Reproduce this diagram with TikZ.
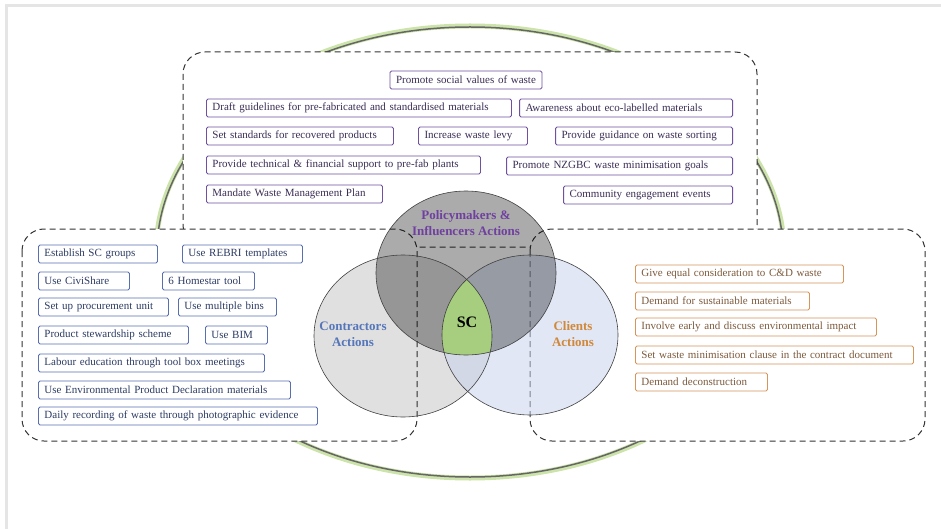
\documentclass[tikz,border=0pt]{standalone}
\usepackage{fontspec}
\setmainfont{Liberation Serif}
\definecolor{polline}{RGB}{112,80,160}
\definecolor{poltext}{RGB}{60,45,85}
\definecolor{conline}{RGB}{88,112,176}
\definecolor{context}{RGB}{45,60,100}
\definecolor{cliline}{RGB}{214,150,90}
\definecolor{clitext}{RGB}{125,90,60}
\definecolor{polhead}{RGB}{112,64,160}
\definecolor{conhead}{RGB}{86,118,186}
\definecolor{clihead}{RGB}{208,136,58}
\definecolor{glow}{RGB}{204,228,170}
\definecolor{clifill}{RGB}{196,208,236}
\definecolor{scgreen}{RGB}{166,206,126}
\begin{document}
\begin{tikzpicture}[x=1pt, y=-1pt,
	    pol/.style={draw=polline, fill=white, line width=0.9pt, rounded corners=1.5pt, minimum height=18pt, inner xsep=6pt, inner ysep=0pt, align=left, text=poltext, font=\fontsize{11}{12}\selectfont},
	    con/.style={pol, draw=conline, text=context},
	    cli/.style={pol, draw=cliline, text=clitext},
	    zone/.style={fill=white, draw=black!80, line width=1pt, dash pattern=on 6pt off 4pt, rounded corners=22pt},
	    head/.style={align=center, font=\bfseries\fontsize{13}{16}\selectfont}]
	    \useasboundingbox (0,0) rectangle (941,529);
	    % frame
	    \draw[black!10, line width=3pt] (6,529) -- (6,5.5) -- (941,5.5);
	    % outer ring
	    \draw[glow, line width=5pt] (470,252) ellipse [x radius=314, y radius=226];
	    \draw[black!60, line width=1.5pt] (470,252) ellipse [x radius=313, y radius=225];
	    % dashed zones
	    \draw[zone] (183,52) rectangle (757,247);
	    \draw[zone] (22,229) rectangle (417,441);
	    \draw[zone] (530,229) rectangle (925,441);
	    % venn
	    \fill[black, fill opacity=0.12] (403,336) ellipse [x radius=89, y radius=81];
	    \fill[clifill, fill opacity=0.5] (530,335) ellipse [x radius=88, y radius=80];
	    \fill[black, fill opacity=0.33] (466,273) ellipse [x radius=90, y radius=82];
	    \begin{scope}
	        \clip (466,273) ellipse [x radius=90, y radius=82];
	        \clip (403,336) ellipse [x radius=89, y radius=81];
	        \fill[scgreen] (530,335) ellipse [x radius=88, y radius=80];
	    \end{scope}
	    \draw[black!75, line width=0.6pt] (403,336) ellipse [x radius=89, y radius=81];
	    \draw[black!75, line width=0.6pt] (530,335) ellipse [x radius=88, y radius=80];
	    \draw[black!75, line width=0.6pt] (466,273) ellipse [x radius=90, y radius=82];
	    \node[head, text=polhead] (polhead) at (466,223) {Policymakers \&\\Influencers Actions};
	    \node[head, text=conhead] (conhead) at (353,334) {Contractors\\Actions};
	    \node[head, text=clihead] (clihead) at (573,334) {Clients\\Actions};
	    \node[font=\bfseries\fontsize{16}{18}\selectfont] (sc) at (467,322) {SC};
	    % policymakers and influencers
	    \node[pol, text width=140pt] (p1) at (466,80) {Promote social values of waste};
	    \node[pol, text width=293pt, anchor=west] (p2) at (206,108) {Draft guidelines for pre-fabricated and standardised materials};
	    \node[pol, text width=201pt, anchor=east] (p3) at (733,108) {Awareness about eco-labelled materials};
	    \node[pol, text width=175pt, anchor=west] (p4) at (206,136) {Set standards for recovered products};
	    \node[pol, text width=97pt] (p5) at (473,136) {Increase waste levy};
	    \node[pol, text width=165pt, anchor=east] (p6) at (733,136) {Provide guidance on waste sorting};
	    \node[pol, text width=262pt, anchor=west] (p7) at (206,165) {Provide technical \& financial support to pre-fab plants};
	    \node[pol, text width=214pt, anchor=east] (p8) at (733,166) {Promote NZGBC waste minimisation goals};
	    \node[pol, text width=164pt, anchor=west] (p9) at (206,194) {Mandate Waste Management Plan};
	    \node[pol, text width=157pt, anchor=east] (p10) at (733,195) {Community engagement events};
	    % contractors
	    \node[con, text width=107pt, anchor=west] (c1) at (38,254) {Establish SC groups};
	    \node[con, text width=108pt, anchor=west] (c2) at (182,254) {Use REBRI templates};
	    \node[con, text width=79pt, anchor=west] (c3) at (38,281) {Use CiviShare};
	    \node[con, text width=80pt, anchor=west] (c4) at (162,281) {6 Homestar tool};
	    \node[con, text width=118pt, anchor=west] (c5) at (38,307) {Set up procurement unit};
	    \node[con, text width=86pt, anchor=west] (c6) at (178,307) {Use multiple bins};
	    \node[con, text width=138pt, anchor=west] (c7) at (38,335) {Product stewardship scheme};
	    \node[con, text width=50pt, anchor=west] (c8) at (205,335) {Use BIM};
	    \node[con, text width=214pt, anchor=west] (c9) at (38,363) {Labour education through tool box meetings};
	    \node[con, text width=240pt, anchor=west] (c10) at (38,390) {Use Environmental Product Declaration materials};
	    \node[con, text width=267pt, anchor=west] (c11) at (38,416) {Daily recording of waste through photographic evidence};
	    % clients
	    \node[cli, text width=196pt, anchor=west] (k1) at (635,274) {Give equal consideration to C\&D waste};
	    \node[cli, text width=162pt, anchor=west] (k2) at (635,301) {Demand for sustainable materials};
	    \node[cli, text width=229pt, anchor=west] (k3) at (635,327) {Involve early and discuss environmental impact};
	    \node[cli, text width=266pt, anchor=west] (k4) at (635,355) {Set waste minimisation clause in the contract document};
	    \node[cli, text width=120pt, anchor=west] (k5) at (635,382) {Demand deconstruction};
	\end{tikzpicture}
\end{document}
